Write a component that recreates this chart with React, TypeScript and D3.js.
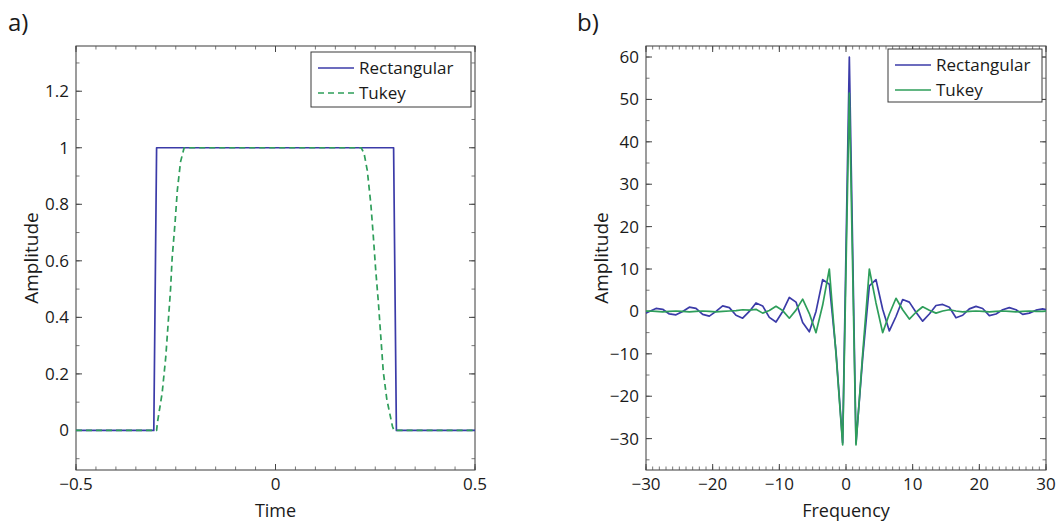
import React from 'react';
import * as d3 from 'd3';

// panel a) - time domain windows
const rectTime = [-0.5, -0.305, -0.298, 0.296, 0.303, 0.5];
const rectAmp = [0, 0, 1, 1, 0, 0];

const tukeyTime = [-0.5, -0.298, -0.296, -0.284, -0.275, -0.269, -0.263, -0.259, -0.252, -0.246, -0.238, -0.229,
  0.215, 0.222, 0.23, 0.239, 0.245, 0.251, 0.258, 0.264, 0.27, 0.279, 0.293, 0.297, 0.5];
const tukeyAmp = [0, 0, 0.027, 0.133, 0.26, 0.38, 0.5, 0.61, 0.73, 0.85, 0.95, 1,
  1, 0.98, 0.92, 0.8, 0.69, 0.57, 0.45, 0.33, 0.21, 0.11, 0.015, 0, 0];

// panel b) - spectra
const freq = [-30.5, -29.5, -28.5, -27.5, -26.5, -25.5, -24.5, -23.5, -22.5, -21.5, -20.5,
  -19.5, -18.5, -17.5, -16.5, -15.5, -14.5, -13.5, -12.5, -11.5, -10.5,
  -9.5, -8.5, -7.5, -6.5, -5.5, -4.5, -3.5, -2.5, -1.5, -0.5,
  0.5, 1.5, 2.5, 3.5, 4.5, 5.5, 6.5, 7.5, 8.5, 9.5,
  10.5, 11.5, 12.5, 13.5, 14.5, 15.5, 16.5, 17.5, 18.5, 19.5,
  20.5, 21.5, 22.5, 23.5, 24.5, 25.5, 26.5, 27.5, 28.5, 29.5, 30.5];

const specRect = [-0.8, 0, 0.7, 0.5, -0.6, -0.8, 0, 1.0, 0.7, -0.7, -1.1,
  0, 1.3, 0.9, -0.9, -1.6, 0, 2.0, 1.3, -1.4, -2.5,
  0, 3.3, 2.2, -2.6, -4.8, 0, 7.5, 6.4, -9.5, -31,
  60, -31, -11, 6.0, 7.5, 0.5, -4.6, -1.2, 2.8, 2.2,
  -0.2, -2.3, -0.6, 1.4, 1.65, 1.0, -1.5, -0.9, 0.6, 1.2,
  0.7, -1.0, -0.6, 0.4, 0.9, 0.4, -0.7, -0.4, 0.3, 0.6, 0.3];

const specTukey = [0, 0.1, 0, -0.1, 0, 0.1, 0, -0.1, 0, 0.1, 0,
  -0.1, 0, 0.1, 0.2, 0.4, 0.3, 0.5, -0.4, 0.2, 1.2,
  0.2, -1.6, 0.3, 2.9, -0.5, -5.0, 1.5, 10.0, -10, -31.5,
  51.5, -31.5, -10, 10, 2.0, -5.0, -0.6, 3.1, 0.4, -1.8,
  -0.2, 1.1, 0.3, -0.4, 0.1, 0.4, 0.1, -0.1, 0, 0.1,
  0, -0.1, 0, 0.1, 0, -0.1, 0, 0.1, 0, 0, 0.1];

const legendNames = ['Rectangular', 'Tukey'];

const xTicksA = [-0.5, 0, 0.5];
const yTicksA = [0, 0.2, 0.4, 0.6, 0.8, 1, 1.2];
const xTicksB = [-30, -20, -10, 0, 10, 20, 30];
const yTicksB = [-30, -20, -10, 0, 10, 20, 30, 40, 50, 60];

const BLUE = '#3b3ba8';
const GREEN = '#2e9e5a';
const FONT = '"Open Sans", "Noto Sans", sans-serif';

const minus = (s: string) => s.replace('-', '\u2212');

const Panel = ({ box, xDomain, yDomain, xTicks, yTicks, xMinorStep, yMinorStep, xLabel, yLabel, tag, series, legend, clipId }: any) => {
  const x = d3.scaleLinear().domain(xDomain).range([box.left, box.right]);
  const y = d3.scaleLinear().domain(yDomain).range([box.bottom, box.top]);

  const xMinor = d3.range(Math.ceil(xDomain[0] / xMinorStep), Math.floor(xDomain[1] / xMinorStep) + 1).map(i => i * xMinorStep);
  const yMinor = d3.range(Math.ceil(yDomain[0] / yMinorStep), Math.floor(yDomain[1] / yMinorStep) + 1).map(i => i * yMinorStep);

  const fx = (v: number) => minus(d3.format('')(+v.toFixed(6)));
  const maj = 6, mnr = 3.5;

  return (
    <g>
      <defs>
        <clipPath id={clipId}>
          <rect x={box.left} y={box.top} width={box.right - box.left} height={box.bottom - box.top} />
        </clipPath>
      </defs>
      <rect x={box.left} y={box.top} width={box.right - box.left} height={box.bottom - box.top} fill="#fff" stroke="#3a3a3a" strokeWidth={1} />

      {/* minor ticks */}
      {xMinor.map((v, i) => (
        <g key={'xm' + i} stroke="#555" strokeWidth={0.8}>
          <line x1={x(v)} x2={x(v)} y1={box.bottom} y2={box.bottom - mnr} />
          <line x1={x(v)} x2={x(v)} y1={box.top} y2={box.top + mnr} />
        </g>
      ))}
      {yMinor.map((v, i) => (
        <g key={'ym' + i} stroke="#555" strokeWidth={0.8}>
          <line x1={box.left} x2={box.left + mnr} y1={y(v)} y2={y(v)} />
          <line x1={box.right} x2={box.right - mnr} y1={y(v)} y2={y(v)} />
        </g>
      ))}
      {xTicks.map((v: number, i: number) => (
        <g key={'xt' + i}>
          <line x1={x(v)} x2={x(v)} y1={box.bottom} y2={box.bottom - maj} stroke="#444" />
          <line x1={x(v)} x2={x(v)} y1={box.top} y2={box.top + maj} stroke="#444" />
          <text x={x(v)} y={box.bottom + 20} textAnchor="middle" fontSize={17} fill="#1a1a1a">{fx(v)}</text>
        </g>
      ))}
      {yTicks.map((v: number, i: number) => (
        <g key={'yt' + i}>
          <line x1={box.left} x2={box.left + maj} y1={y(v)} y2={y(v)} stroke="#444" />
          <line x1={box.right} x2={box.right - maj} y1={y(v)} y2={y(v)} stroke="#444" />
          <text x={box.left - 7} y={y(v)} dy="0.35em" textAnchor="end" fontSize={17} fill="#1a1a1a">{fx(v)}</text>
        </g>
      ))}

      <g clipPath={`url(#${clipId})`}>
        {series.map((s: any, i: number) => {
          const line = d3.line<number>().x((_, j) => x(s.xs[j])).y(d => y(d));
          return <path key={i} d={line(s.ys) || ''} fill="none" stroke={s.color} strokeWidth={1.7} strokeDasharray={s.dash || null} strokeLinejoin="round" />;
        })}
      </g>

      {/* legend */}
      <rect x={legend.x} y={legend.y} width={legend.w} height={legend.h} fill="#fff" stroke="#3a3a3a" strokeWidth={1} />
      {series.map((s: any, i: number) => (
        <g key={'lg' + i}>
          <line x1={legend.x + 7} x2={legend.x + 43} y1={legend.y + 16 + i * 25} y2={legend.y + 16 + i * 25}
            stroke={s.color} strokeWidth={1.7} strokeDasharray={s.dash || null} />
          <text x={legend.x + 48} y={legend.y + 16 + i * 25} dy="0.35em" fontSize={17} fill="#1a1a1a">{legendNames[i]}</text>
        </g>
      ))}

      <text x={(box.left + box.right) / 2} y={box.bottom + 47} textAnchor="middle" fontSize={18} fill="#1a1a1a">{xLabel}</text>
      <text transform={`translate(${box.left - 38},${(box.top + box.bottom) / 2}) rotate(-90)`} textAnchor="middle" fontSize={19} fill="#1a1a1a">{yLabel}</text>
      <text x={tag.x} y={tag.y} fontSize={24} fill="#1a1a1a">{tag.text}</text>
    </g>
  );
};

export default function App() {
  return (
    <svg width={1061} height={523} style={{ position: 'absolute', left: 0, top: 0, fontFamily: FONT }}>
      <rect width={1061} height={523} fill="#fff" />
      <Panel
        box={{ left: 76, right: 475, top: 46, bottom: 470 }}
        xDomain={[-0.5, 0.5]} yDomain={[-0.14, 1.36]}
        xTicks={xTicksA} yTicks={yTicksA} xMinorStep={0.05} yMinorStep={0.1}
        xLabel="Time" yLabel="Amplitude" tag={{ x: 8, y: 31, text: 'a)' }}
        clipId="clipA"
        series={[
          { xs: rectTime, ys: rectAmp, color: BLUE },
          { xs: tukeyTime, ys: tukeyAmp, color: GREEN, dash: '6,4' },
        ]}
        legend={{ x: 311, y: 52, w: 160, h: 55 }}
      />
      <Panel
        box={{ left: 646, right: 1046, top: 46, bottom: 470 }}
        xDomain={[-30, 30]} yDomain={[-37.4, 62.6]}
        xTicks={xTicksB} yTicks={yTicksB} xMinorStep={1} yMinorStep={5}
        xLabel="Frequency" yLabel="Amplitude" tag={{ x: 577, y: 31, text: 'b)' }}
        clipId="clipB"
        series={[
          { xs: freq, ys: specRect, color: BLUE },
          { xs: freq, ys: specTukey, color: GREEN },
        ]}
        legend={{ x: 888, y: 49, w: 154, h: 53 }}
      />
    </svg>
  );
}
